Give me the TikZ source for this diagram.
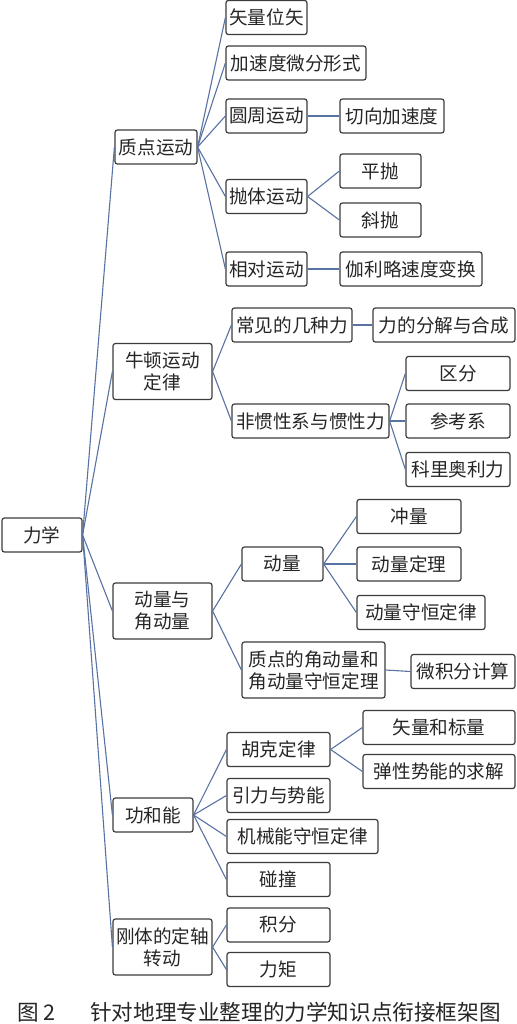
\documentclass[tikz,border=0pt]{standalone}
\usepackage{fontspec}
\setmainfont{Noto Sans CJK SC}
\definecolor{linkblue}{HTML}{5873A3}
\definecolor{boxgray}{HTML}{3C3C3C}
\tikzset{
  kbox/.style={draw=boxgray, line width=0.6pt, rounded corners=1.2pt, inner sep=1pt,
    minimum height=17pt, align=center, text=black!85, font=\fontsize{9.3pt}{11pt}\selectfont},
  bw/.style={minimum width=#1*0.5pt},
  tall/.style={minimum height=28pt},
  link/.style={draw=linkblue, line width=0.55pt}
}
\begin{document}
\begin{tikzpicture}[x=0.5pt, y=-0.5pt]
    \useasboundingbox[fill=white] (0,0) rectangle (516,1024);

    % Root and first level
    \node[kbox, bw=80] (lx) at (42,535) {力学};
    \node[kbox, bw=82] (zd) at (156,147) {质点运动};
    \node[kbox, bw=99, tall] (nd) at (162.5,371.5) {牛顿运动\\定律};
    \node[kbox, bw=99, tall] (dl) at (162.5,611) {动量与\\角动量};
    \node[kbox, bw=80] (gn) at (153,815) {功和能};
    \node[kbox, bw=99, tall] (gt) at (162.5,947) {刚体的定轴\\转动};

    % Particle motion
    \node[kbox, bw=81] (slws) at (266.5,17.5) {矢量位矢};
    \node[kbox, bw=140] (jsd) at (296,63) {加速度微分形式};
    \node[kbox, bw=81] (yz) at (266.5,116) {圆周运动};
    \node[kbox, bw=81] (pt) at (266.5,196.5) {抛体运动};
    \node[kbox, bw=81] (xd) at (266.5,269) {相对运动};
    \node[kbox, bw=104] (qx) at (392,116) {切向加速度};
    \node[kbox, bw=81] (pp) at (380.5,171) {平抛};
    \node[kbox, bw=81] (xp) at (380.5,220) {斜抛};
    \node[kbox, bw=142] (jl) at (411,269) {伽利略速度变换};

    % Newton's laws
    \node[kbox, bw=120] (cj) at (292,325) {常见的几种力};
    \node[kbox, bw=142] (fj) at (444,325) {力的分解与合成};
    \node[kbox, bw=157] (fg) at (310.5,421) {非惯性系与惯性力};
    \node[kbox, bw=104] (qf) at (458,373.5) {区分};
    \node[kbox, bw=104] (ck) at (458,421) {参考系};
    \node[kbox, bw=104] (kl) at (458,469.5) {科里奥利力};

    % Momentum and angular momentum
    \node[kbox, bw=81] (dm) at (282.5,564) {动量};
    \node[kbox, bw=104] (cl) at (409,516.5) {冲量};
    \node[kbox, bw=104] (dd) at (409,564) {动量定理};
    \node[kbox, bw=128] (ds) at (421,612.5) {动量守恒定律};
    \node[kbox, bw=143, tall] (jd) at (313.5,670) {质点的角动量和\\角动量守恒定理};
    \node[kbox, bw=104] (wj) at (463,671.5) {微积分计算};

    % Work and energy
    \node[kbox, bw=103] (hk) at (278.5,749.5) {胡克定律};
    \node[kbox, bw=152] (sl) at (439,727.5) {矢量和标量};
    \node[kbox, bw=152] (tx) at (439,771.5) {弹性势能的求解};
    \node[kbox, bw=103] (yl) at (278.5,795.5) {引力与势能};
    \node[kbox, bw=151] (jx) at (302.5,836.5) {机械能守恒定律};
    \node[kbox, bw=103] (pz) at (278.5,879.5) {碰撞};

    % Rigid body
    \node[kbox, bw=103] (jf) at (278.5,925) {积分};
    \node[kbox, bw=103] (lj) at (278.5,969.5) {力矩};

    % Connectors
    \foreach \a/\b in {lx/zd, lx/nd, lx/dl, lx/gn, lx/gt,
        zd/slws, zd/jsd, zd/yz, zd/pt, zd/xd, yz/qx, pt/pp, pt/xp, xd/jl,
        nd/cj, nd/fg, cj/fj, fg/qf, fg/ck, fg/kl,
        dl/dm, dl/jd, dm/cl, dm/dd, dm/ds, jd/wj,
        gn/hk, gn/yl, gn/jx, gn/pz, hk/sl, hk/tx,
        gt/jf, gt/lj}
        \draw[link] (\a.east) -- (\b.west);

    % Caption
    \node[font=\fontsize{10.8pt}{12pt}\selectfont, text=black!85] (cap) at (259,1012)
        {图~2\hspace{1.6em}针对地理专业整理的力学知识点衔接框架图};
\end{tikzpicture}
\end{document}
